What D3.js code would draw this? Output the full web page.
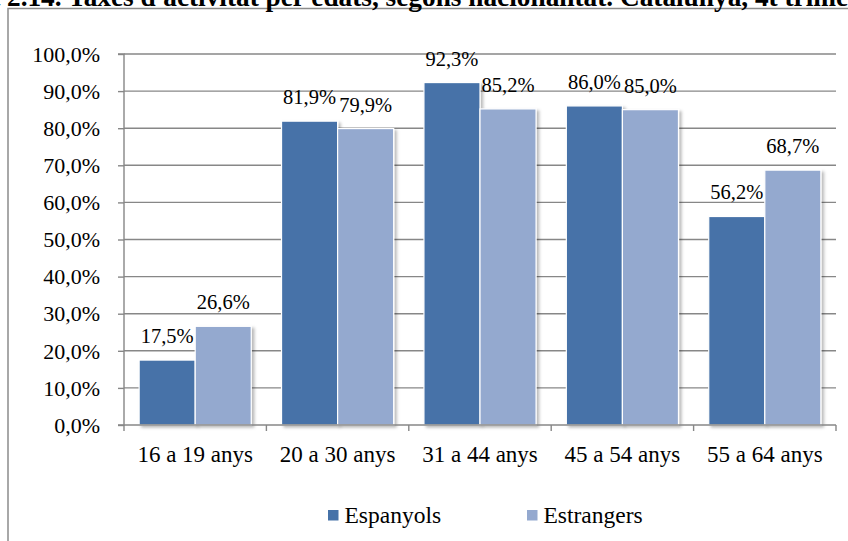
<!DOCTYPE html>
<html>
<head>
<meta charset="utf-8">
<script src="https://cdn.jsdelivr.net/npm/d3@7"></script>
<style>
  html, body { margin: 0; padding: 0; background: #fff; overflow: hidden; }
  svg { display: block; }
  svg text { font-family: "Liberation Serif", "DejaVu Serif", serif !important; fill: #000; }
</style>
</head>
<body>
<svg id="chart" width="848" height="541"></svg>
<script>
// Activity rates by age group and nationality
const categories = ["16 a 19 anys", "20 a 30 anys", "31 a 44 anys", "45 a 54 anys", "55 a 64 anys"];
const seriesNames = ["Espanyols", "Estrangers"];
const espanyols = [17.5, 81.9, 92.3, 86.0, 56.2];
const estrangers = [26.6, 79.9, 85.2, 85.0, 68.7];
const yTicks = [0, 10, 20, 30, 40, 50, 60, 70, 80, 90, 100];
const seriesValues = [espanyols, estrangers];
const colors = ["#4672A8", "#94A9CF"];

const fmt = v => v.toFixed(1).replace(".", ",") + "%";

const svg = d3.select("#chart");

const defs = svg.append("defs");
const shadow = defs.append("filter").attr("id", "barShadow")
  .attr("x", "-20%").attr("y", "-20%").attr("width", "150%").attr("height", "150%");
shadow.append("feDropShadow")
  .attr("dx", 2.5).attr("dy", 2).attr("stdDeviation", 1.8)
  .attr("flood-color", "#000").attr("flood-opacity", 0.28);

// Outer chart frame (continues past the right and bottom edges)
svg.append("path")
  .attr("d", "M8,560 L8,8.5 L870,8.5")
  .attr("fill", "none").attr("stroke", "#8c8c8c").attr("stroke-width", 1.5);

// Title, clipped by the top of the page
svg.append("text").attr("x", 1).attr("y", 5.5)
  .attr("text-anchor", "end")
  .style("font-weight", "bold").style("font-size", "27.3px")
  .text("Gràfic");
svg.append("text").attr("x", 7).attr("y", 5.5)
  .style("font-weight", "bold").style("font-size", "27.3px")
  .text("2.14. Taxes d'activitat per edats, segons nacionalitat. Catalunya, 4t trimestre");

const plotLeft = 124, plotRight = 836, plotTop = 54, plotBottom = 425;

const x0 = d3.scaleBand().domain(categories).range([plotLeft, plotRight]).padding(0);
const x1 = d3.scaleBand().domain(seriesNames).range([0, x0.bandwidth()])
  .paddingInner(0).paddingOuter(0.27);
const y = d3.scaleLinear().domain([0, 100]).range([plotBottom, plotTop]);

const gridColor = "#878787";

// Horizontal gridlines
svg.append("g").selectAll("line").data(yTicks.filter(t => t > 0)).join("line")
  .attr("x1", plotLeft).attr("x2", plotRight)
  .attr("y1", d => y(d)).attr("y2", d => y(d))
  .attr("stroke", gridColor).attr("stroke-width", 1.4);

// Y axis
const yAxis = svg.append("g").attr("transform", `translate(${plotLeft},0)`)
  .call(d3.axisLeft(y).tickValues(yTicks).tickFormat(fmt).tickSize(6).tickPadding(18));
yAxis.attr("font-family", null).attr("font-size", null);
yAxis.select(".domain").attr("stroke", gridColor).attr("stroke-width", 1.4)
  .attr("d", `M-6,${plotTop}H0V${plotBottom}H-6`);
yAxis.selectAll(".tick line").attr("stroke", gridColor).attr("stroke-width", 1.4);
yAxis.selectAll(".tick text").style("font-size", "22px").attr("dy", "0.33em");

// Bars
const groups = svg.append("g").selectAll("g").data(categories).join("g")
  .attr("transform", d => `translate(${x0(d)},0)`);

groups.selectAll("rect")
  .data((c, i) => seriesNames.map((s, k) => ({ s, k, v: seriesValues[k][i] })))
  .join("rect")
  .attr("x", d => x1(d.s))
  .attr("y", d => y(d.v))
  .attr("width", x1.bandwidth())
  .attr("height", d => y(0) - y(d.v))
  .attr("fill", d => colors[d.k])
  .attr("stroke", "#ffffff").attr("stroke-width", 1.2)
  .attr("filter", "url(#barShadow)");

// Value labels
groups.selectAll("text.val")
  .data((c, i) => seriesNames.map((s, k) => ({ s, k, v: seriesValues[k][i] })))
  .join("text").attr("class", "val")
  .attr("x", d => x1(d.s) + x1.bandwidth() / 2)
  .attr("y", d => y(d.v) - 17)
  .attr("text-anchor", "middle")
  .style("font-size", "20.5px")
  .text(d => fmt(d.v));

// X axis baseline and category separators
const xAxis = svg.append("g");
xAxis.append("line").attr("x1", plotLeft).attr("x2", plotRight)
  .attr("y1", plotBottom).attr("y2", plotBottom)
  .attr("stroke", gridColor).attr("stroke-width", 1.4);
const bounds = categories.map(c => x0(c)).concat([plotRight]);
xAxis.selectAll("line.sep").data(bounds).join("line").attr("class", "sep")
  .attr("x1", d => d).attr("x2", d => d)
  .attr("y1", plotBottom).attr("y2", plotBottom + 6)
  .attr("stroke", gridColor).attr("stroke-width", 1.4);
xAxis.selectAll("text.cat").data(categories).join("text").attr("class", "cat")
  .attr("x", d => x0(d) + x0.bandwidth() / 2)
  .attr("y", 462)
  .attr("text-anchor", "middle")
  .style("font-size", "23px")
  .text(d => d);

// Legend
const legendX = [328, 527];
const legend = svg.append("g").selectAll("g").data(seriesNames).join("g")
  .attr("transform", (d, i) => `translate(${legendX[i]},510)`);
legend.append("rect").attr("width", 10.5).attr("height", 10.5)
  .attr("fill", (d, i) => colors[i]);
legend.append("text").attr("x", 16.5).attr("y", 13.3)
  .style("font-size", "23.5px").text(d => d);
</script>
</body>
</html>
